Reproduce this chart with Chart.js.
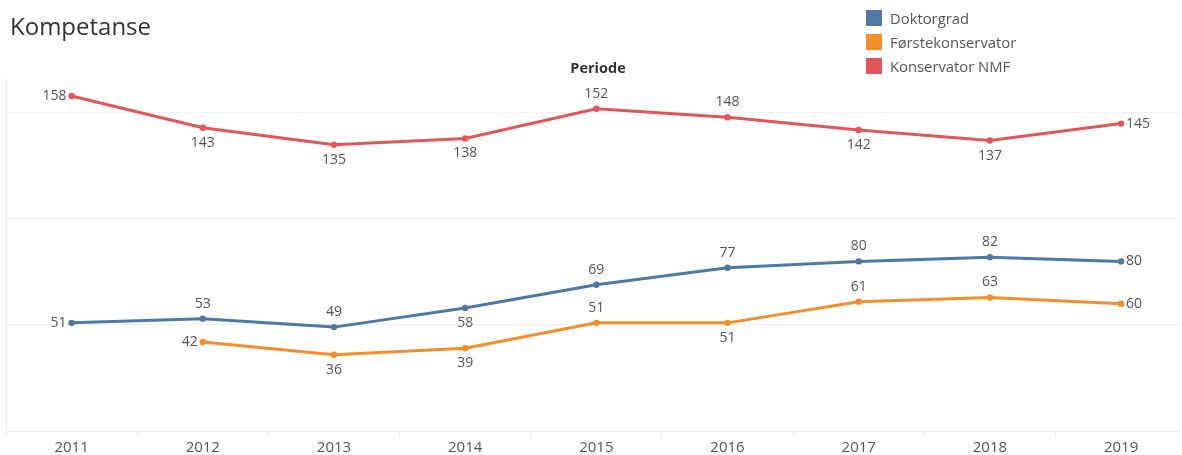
<!DOCTYPE html>
<html>
<head>
<meta charset="utf-8">
<script src="https://cdn.jsdelivr.net/npm/chart.js@4"></script>
<style>
  html, body { margin: 0; padding: 0; background: #fff; }
  #wrap { position: relative; width: 1182px; height: 455px; font-family: "Open Sans", "DejaVu Sans", sans-serif; }
  #chartBox { position: absolute; left: 0; top: 0; width: 1182px; height: 455px; }
  #title { position: absolute; left: 10px; top: 9px; font-size: 24px; color: #333; font-weight: 400; }
  #periode { position: absolute; left: 0; width: 1196px; text-align: center; top: 58px; font-size: 14.5px; font-weight: 700; color: #333; }
  #legend { position: absolute; left: 866px; top: 6px; }
  .li { display: flex; align-items: center; height: 24px; font-size: 14.8px; color: #555; }
  .sw { width: 16px; height: 16px; margin-right: 8px; }
</style>
</head>
<body>
<div id="wrap">
  <div id="chartBox"><canvas id="c"></canvas></div>
  <div id="title">Kompetanse</div>
  <div id="periode">Periode</div>
  <div id="legend"></div>
</div>
<script>
const years = [2011, 2012, 2013, 2014, 2015, 2016, 2017, 2018, 2019];
const doktorgrad = [51, 53, 49, 58, 69, 77, 80, 82, 80];
const forstekonservator = [null, 42, 36, 39, 51, 51, 61, 63, 60];
const konservatorNMF = [158, 143, 135, 138, 152, 148, 142, 137, 145];
const yTicks = [0, 50, 100, 150];

const seriesNames = ['Doktorgrad', 'Førstekonservator', 'Konservator NMF'];
const seriesColors = ['#4e79a7', '#f28e2b', '#e15759'];

// label placement per point (l = left, a = above, b = below, r = right)
const labelPlacement = [
  ['l', 'a', 'a', 'b', 'a', 'a', 'a', 'a', 'r'],
  ['l', 'l', 'b', 'b', 'a', 'b', 'a', 'a', 'r'],
  ['l', 'b', 'b', 'b', 'a', 'a', 'b', 'b', 'r']
];

const seriesData = [doktorgrad, forstekonservator, konservatorNMF];

// legend
const leg = document.getElementById('legend');
seriesNames.forEach((n, i) => {
  const d = document.createElement('div');
  d.className = 'li';
  d.innerHTML = '<div class="sw" style="background:' + seriesColors[i] + '"></div><span>' + n + '</span>';
  leg.appendChild(d);
});

const labelPlugin = {
  id: 'pointLabels',
  afterDatasetsDraw(chart) {
    const ctx = chart.ctx;
    ctx.save();
    ctx.font = '14px "Open Sans", "DejaVu Sans", sans-serif';
    ctx.fillStyle = '#555';
    chart.data.datasets.forEach((ds, di) => {
      const meta = chart.getDatasetMeta(di);
      meta.data.forEach((el, i) => {
        const v = seriesData[di][i];
        if (v === null || v === undefined) return;
        const p = labelPlacement[di][i];
        let x = el.x, y = el.y;
        ctx.textBaseline = 'middle';
        if (p === 'l') { ctx.textAlign = 'right'; x -= 5; }
        else if (p === 'r') { ctx.textAlign = 'left'; x += 5; }
        else if (p === 'a') { ctx.textAlign = 'center'; y -= 15; }
        else { ctx.textAlign = 'center'; y += 15; }
        ctx.fillText(String(v), x, y);
      });
    });
    ctx.restore();
  }
};

new Chart(document.getElementById('c'), {
  type: 'line',
  data: {
    datasets: seriesData.map((arr, i) => ({
      label: seriesNames[i],
      data: years.map((yr, j) => ({ x: yr, y: arr[j] })),
      borderColor: seriesColors[i],
      backgroundColor: seriesColors[i],
      borderWidth: 3,
      pointRadius: 3.2,
      pointBorderWidth: 0,
      pointHoverRadius: 3.2,
      tension: 0,
      spanGaps: false
    }))
  },
  options: {
    responsive: true,
    maintainAspectRatio: false,
    animation: false,
    layout: { padding: { left: 6, right: 0, top: 78, bottom: 0 } },
    plugins: { legend: { display: false }, tooltip: { enabled: false } },
    scales: {
      x: {
        type: 'linear',
        min: years[0] - 0.5,
        max: years[years.length - 1] + 0.44,
        afterBuildTicks(axis) {
          const t = [];
          for (let v = years[0] - 0.5; v <= years[years.length - 1] + 0.01; v += 0.5) t.push({ value: v });
          axis.ticks = t;
        },
        afterFit(axis) { axis.height = 24; },
        ticks: {
          autoSkip: false,
          maxRotation: 0,
          padding: 2,
          color: '#555',
          font: { family: '"Open Sans", "DejaVu Sans", sans-serif', size: 15 },
          callback: (v) => Number.isInteger(v) ? String(v) : ''
        },
        grid: {
          drawOnChartArea: false,
          drawTicks: true,
          tickLength: 6,
          color: (c) => (c.tick && Number.isInteger(c.tick.value)) ? 'rgba(0,0,0,0)' : '#ececec'
        },
        border: { display: true, color: '#ececec', width: 1 }
      },
      y: {
        min: 0,
        max: 166.5,
        afterBuildTicks(axis) { axis.ticks = yTicks.map(v => ({ value: v })); },
        ticks: { display: false },
        grid: { color: '#f0f0f0', drawTicks: false, lineWidth: 1 },
        border: { display: true, color: '#ececec' }
      }
    }
  },
  plugins: [labelPlugin]
});
</script>
</body>
</html>
